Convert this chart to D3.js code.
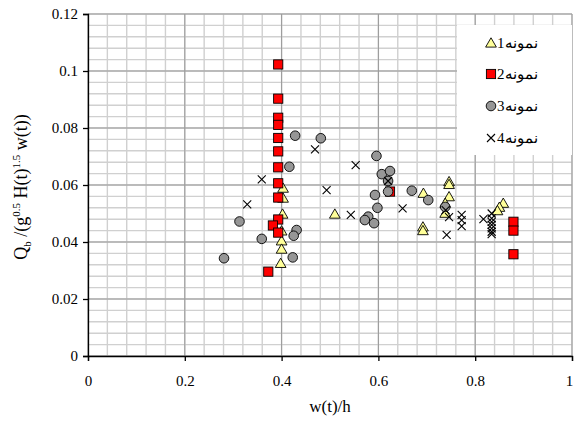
<!DOCTYPE html>
<html>
<head>
<meta charset="utf-8">
<script src="https://cdn.jsdelivr.net/npm/d3@7"></script>
<style>
  html, body { margin: 0; padding: 0; background: #fff; }
  svg { display: block; }
  text { font-family: "Liberation Serif", "Times New Roman", serif; fill: #000; }
</style>
</head>
<body>
<svg id="chart" width="574" height="421"></svg>
<script>
// Series 1 (triangles)
const s1x = [0.403, 0.403, 0.402, 0.400, 0.400, 0.400, 0.398, 0.510, 0.693, 0.692, 0.692, 0.746, 0.746, 0.746, 0.738, 0.738, 0.858, 0.850, 0.846];
const s1y = [0.0589, 0.0554, 0.0498, 0.0439, 0.0404, 0.0375, 0.0325, 0.0498, 0.0571, 0.0453, 0.0440, 0.0612, 0.0602, 0.0559, 0.0536, 0.0501, 0.0536, 0.0522, 0.0510];
// Series 2 (squares)
const s2x = [0.393, 0.393, 0.393, 0.393, 0.393, 0.393, 0.393, 0.393, 0.393, 0.393, 0.382, 0.393, 0.3725, 0.624, 0.879, 0.879, 0.879];
const s2y = [0.1023, 0.0903, 0.0836, 0.0811, 0.0765, 0.0718, 0.0662, 0.0606, 0.0556, 0.0479, 0.0458, 0.0433, 0.0296, 0.0577, 0.0471, 0.0440, 0.0357];
// Series 3 (circles)
const s3x = [0.281, 0.313, 0.359, 0.416, 0.428, 0.431, 0.425, 0.423, 0.481, 0.596, 0.607, 0.624, 0.620, 0.620, 0.593, 0.598, 0.579, 0.572, 0.591, 0.669, 0.703, 0.738];
const s3y = [0.0343, 0.0472, 0.0411, 0.0664, 0.0773, 0.0442, 0.0422, 0.0346, 0.0764, 0.0702, 0.0638, 0.0649, 0.0614, 0.0577, 0.0565, 0.0520, 0.0489, 0.0477, 0.0466, 0.0580, 0.0547, 0.0523];
// Series 4 (crosses)
const s4x = [0.329, 0.359, 0.469, 0.493, 0.543, 0.553, 0.620, 0.650, 0.739, 0.746, 0.741, 0.772, 0.772, 0.772, 0.817, 0.834, 0.834, 0.834, 0.834, 0.834, 0.834, 0.834];
const s4y = [0.0532, 0.0620, 0.0725, 0.0582, 0.0495, 0.0670, 0.0614, 0.0518, 0.0512, 0.0487, 0.0425, 0.0495, 0.0477, 0.0456, 0.0480, 0.0500, 0.0483, 0.0471, 0.0460, 0.0448, 0.0436, 0.0428];

const seriesNames = ["نمونه1", "نمونه2", "نمونه3", "نمونه4"];
const xTicks = [0, 0.2, 0.4, 0.6, 0.8, 1];
const yTicks = [0, 0.02, 0.04, 0.06, 0.08, 0.1, 0.12];
const xTickLabels = ["0", "0.2", "0.4", "0.6", "0.8", "1"];
const yTickLabels = ["0", "0.02", "0.04", "0.06", "0.08", "0.1", "0.12"];

const svg = d3.select("#chart");
const x = d3.scaleLinear().domain([0, 1]).range([88, 572]);
const y = d3.scaleLinear().domain([0, 0.12]).range([356, 14]);

// minor grid
const gGrid = svg.append("g");
gGrid.selectAll("line.mx").data(d3.range(0, 1.0001, 0.04)).join("line")
  .attr("x1", d => x(d)).attr("x2", d => x(d)).attr("y1", y(0)).attr("y2", y(0.12))
  .attr("stroke", "#d0d0d0").attr("stroke-width", 1.4);
gGrid.selectAll("line.my").data(d3.range(0, 0.12001, 0.004)).join("line")
  .attr("y1", d => y(d)).attr("y2", d => y(d)).attr("x1", x(0)).attr("x2", x(1))
  .attr("stroke", "#d0d0d0").attr("stroke-width", 1.4);
// major grid
gGrid.append("g").selectAll("line").data(xTicks).join("line")
  .attr("x1", d => x(d)).attr("x2", d => x(d)).attr("y1", y(0)).attr("y2", y(0.12))
  .attr("stroke", "#999").attr("stroke-width", 1);
gGrid.append("g").selectAll("line").data(yTicks).join("line")
  .attr("y1", d => y(d)).attr("y2", d => y(d)).attr("x1", x(0)).attr("x2", x(1))
  .attr("stroke", "#999").attr("stroke-width", 1);

// legend background (drawn over the grid)
const legend = svg.append("g");
legend.append("rect").attr("x", 457).attr("y", 25).attr("width", 115).attr("height", 130).attr("fill", "#fff");

// axes
const xAxis = d3.axisBottom(x).tickValues(xTicks).tickFormat((d, i) => xTickLabels[i]).tickSize(5).tickPadding(14);
const yAxis = d3.axisLeft(y).tickValues(yTicks).tickFormat((d, i) => yTickLabels[i]).tickSize(5).tickPadding(5);
const gx = svg.append("g").attr("transform", `translate(0,${y(0)})`).call(xAxis);
const gy = svg.append("g").attr("transform", `translate(${x(0)},0)`).call(yAxis);
[gx, gy].forEach(g => {
  g.attr("font-family", null);
  g.select(".domain").attr("stroke", "#000").attr("stroke-width", 1.3);
  g.selectAll(".tick line").attr("stroke", "#000").attr("stroke-width", 1.3);
  g.selectAll(".tick text").attr("font-size", 15).attr("fill", "#000")
    .style("font-family", "'Liberation Serif', serif");
});
// keep the last x label inside the canvas
gx.selectAll(".tick text").filter(d => d === 1).attr("dx", -3);

// axis titles
svg.append("text").attr("x", x(0.5)).attr("y", 412).attr("text-anchor", "middle").attr("font-size", 17).text("w(t)/h");
const yt = svg.append("text").attr("transform", "translate(27,187) rotate(-90)").attr("text-anchor", "middle").attr("font-size", 18);
yt.append("tspan").text("Q");
yt.append("tspan").attr("font-size", 11).attr("dy", 4).text("b");
yt.append("tspan").attr("dy", -4).text(" /(g");
yt.append("tspan").attr("font-size", 11).attr("dy", -7).text("0.5");
yt.append("tspan").attr("dy", 7).text(" H(t)");
yt.append("tspan").attr("font-size", 11).attr("dy", -7).text("1.5");
yt.append("tspan").attr("dy", 7).text(" w(t))");

// marker drawing helpers
const tri = d3.symbol().type(d3.symbolTriangle).size(50);
function drawTri(g, cx, cy) {
  g.append("path").attr("d", tri()).attr("transform", `translate(${cx},${cy + 1})`)
    .attr("fill", "#ffff99").attr("stroke", "#000").attr("stroke-width", 0.9);
}
function drawSq(g, cx, cy) {
  g.append("rect").attr("x", cx - 4.6).attr("y", cy - 4.6).attr("width", 9.2).attr("height", 9.2)
    .attr("fill", "#ff0000").attr("stroke", "#000").attr("stroke-width", 0.9);
}
function drawCirc(g, cx, cy) {
  g.append("circle").attr("cx", cx).attr("cy", cy).attr("r", 4.8)
    .attr("fill", "#969696").attr("stroke", "#000").attr("stroke-width", 0.9);
}
function drawX(g, cx, cy) {
  const s = 4;
  g.append("path").attr("d", `M${cx - s},${cy - s}L${cx + s},${cy + s}M${cx - s},${cy + s}L${cx + s},${cy - s}`)
    .attr("stroke", "#000").attr("stroke-width", 1.1).attr("fill", "none");
}

const gPts = svg.append("g");
s1x.forEach((v, i) => drawTri(gPts, x(v), y(s1y[i])));
s2x.forEach((v, i) => drawSq(gPts, x(v), y(s2y[i])));
s3x.forEach((v, i) => drawCirc(gPts, x(v), y(s3y[i])));
s4x.forEach((v, i) => drawX(gPts, x(v), y(s4y[i])));

// legend entries (right-to-left labels, digit shown next to the marker)
const drawers = [drawTri, drawSq, drawCirc, drawX];
const legY = [43, 74, 106, 138];
seriesNames.forEach((name, i) => {
  drawers[i](legend, 491, legY[i]);
  legend.append("text").attr("x", 497).attr("y", legY[i] + 5).attr("font-size", 15)
    .attr("direction", "rtl").attr("unicode-bidi", "bidi-override")
    .attr("text-anchor", "end").text(name);
});
</script>
</body>
</html>
